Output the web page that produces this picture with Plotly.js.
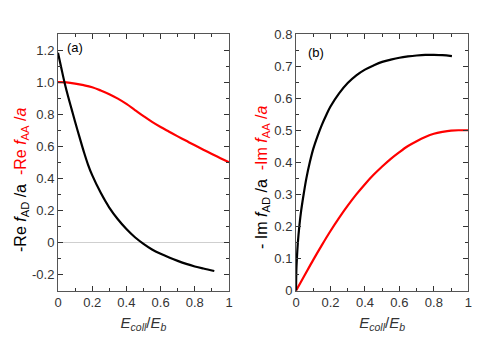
<!DOCTYPE html>
<html><head><meta charset="utf-8">
<script src="https://cdn.plot.ly/plotly-3.0.1.min.js"></script>
<style>body{margin:0;padding:0;background:#fff}#c{width:491px;height:343px}</style>
</head><body><div id="c"></div>
<script>
// Panel (a): real parts
const xReAD = [0, 0.02, 0.04, 0.06, 0.08, 0.1, 0.125, 0.15, 0.175, 0.2, 0.25, 0.3, 0.35, 0.4, 0.45, 0.5, 0.55, 0.6, 0.65, 0.7, 0.75, 0.8, 0.85, 0.914];
const yReAD = [1.183, 1.085, 0.99, 0.907, 0.83, 0.753, 0.66, 0.57, 0.488, 0.42, 0.31, 0.218, 0.145, 0.084, 0.033, -0.008, -0.043, -0.07, -0.093, -0.114, -0.133, -0.149, -0.162, -0.177];
const xReAA = [0, 0.05, 0.1, 0.15, 0.2, 0.25, 0.3, 0.35, 0.4, 0.45, 0.5, 0.55, 0.6, 0.65, 0.7, 0.75, 0.8, 0.85, 0.9, 0.95, 1.0];
const yReAA = [1.0, 0.998, 0.991, 0.981, 0.968, 0.948, 0.925, 0.897, 0.864, 0.826, 0.788, 0.752, 0.72, 0.691, 0.662, 0.634, 0.606, 0.579, 0.552, 0.526, 0.5];
// Panel (b): imaginary parts
const xImAD = [0, 0.002, 0.005, 0.01, 0.02, 0.03, 0.045, 0.06, 0.08, 0.1, 0.125, 0.15, 0.175, 0.2, 0.25, 0.3, 0.35, 0.4, 0.45, 0.5, 0.55, 0.6, 0.65, 0.7, 0.75, 0.8, 0.85, 0.905];
const yImAD = [0, 0.065, 0.10, 0.145, 0.205, 0.25, 0.303, 0.35, 0.40, 0.442, 0.482, 0.517, 0.547, 0.574, 0.615, 0.647, 0.671, 0.689, 0.702, 0.713, 0.72, 0.726, 0.73, 0.733, 0.735, 0.735, 0.734, 0.731];
const xImAA = [0, 0.05, 0.1, 0.15, 0.2, 0.25, 0.3, 0.35, 0.4, 0.45, 0.5, 0.55, 0.6, 0.65, 0.7, 0.75, 0.8, 0.85, 0.9, 0.95, 1.0];
const yImAA = [0, 0.048, 0.096, 0.142, 0.186, 0.227, 0.265, 0.3, 0.332, 0.361, 0.387, 0.411, 0.432, 0.451, 0.466, 0.479, 0.489, 0.495, 0.499, 0.5, 0.5];
const xTickVals = [0, 0.2, 0.4, 0.6, 0.8, 1];
const xTickText = ['0', '0.2', '0.4', '0.6', '0.8', '1'];
const yaTickVals = [-0.2, 0, 0.2, 0.4, 0.6, 0.8, 1.0, 1.2];
const yaTickText = ['-0.2', '0', '0.2', '0.4', '0.6', '0.8', '1.0', '1.2'];
const ybTickVals = [0, 0.1, 0.2, 0.3, 0.4, 0.5, 0.6, 0.7, 0.8];
const ybTickText = ['0', '0.1', '0.2', '0.3', '0.4', '0.5', '0.6', '0.7', '0.8'];
const yaTitle = '-Re <i>f</i><sub>AD</sub> /a  <span style="color:#ff0000">-Re <i>f</i><sub>AA</sub> /<i>a</i></span>';
const ybTitle = '- Im <i>f</i><sub>AD</sub> /a  <span style="color:#ff0000">-Im <i>f</i><sub>AA</sub> /<i>a</i></span>';
const xTitle = '<i>E<sub>coll</sub></i>/<i>E<sub>b</sub></i>';

const FONT = 'Liberation Sans, Arial, sans-serif';
const traces = [
  {x: xReAA, y: yReAA, xaxis: 'x', yaxis: 'y', mode: 'lines', line: {color: '#ff0000', width: 2.2, shape: 'spline', smoothing: 1}},
  {x: xReAD, y: yReAD, xaxis: 'x', yaxis: 'y', mode: 'lines', line: {color: '#000000', width: 2.2, shape: 'spline', smoothing: 1}},
  {x: xImAA, y: yImAA, xaxis: 'x2', yaxis: 'y2', mode: 'lines', line: {color: '#ff0000', width: 2.2, shape: 'spline', smoothing: 1}},
  {x: xImAD, y: yImAD, xaxis: 'x2', yaxis: 'y2', mode: 'lines', line: {color: '#000000', width: 2.2, shape: 'spline', smoothing: 1}}
];
function xax(domain, anchor) {
  return {domain: domain, anchor: anchor, range: [0, 1], tickvals: xTickVals, ticktext: xTickText,
    ticks: 'inside', ticklen: 5, tickwidth: 1, tickcolor: '#333', showgrid: false, zeroline: false,
    showline: true, linecolor: '#555', linewidth: 1, mirror: 'ticks',
    minor: {ticks: 'inside', dtick: 0.1, ticklen: 3, tickcolor: '#333', showgrid: false},
    tickfont: {family: FONT, size: 13, color: '#333'},
    title: {text: xTitle, font: {family: FONT, size: 15, color: '#333'}, standoff: 8},
    automargin: false, fixedrange: true};
}
const layout = {
  width: 491, height: 343, margin: {l: 0, r: 0, t: 0, b: 0},
  paper_bgcolor: '#fff', plot_bgcolor: '#fff', showlegend: false,
  xaxis: xax([0.1181, 0.4664], 'y'),
  xaxis2: xax([0.6029, 0.9538], 'y2'),
  yaxis: {domain: [0.1525, 0.9009], anchor: 'x', range: [-0.3, 1.3], tickvals: yaTickVals, ticktext: yaTickText,
    ticks: 'inside', ticklen: 5, tickcolor: '#333', showgrid: false,
    zeroline: true, zerolinecolor: '#bbb', zerolinewidth: 0.7,
    showline: true, linecolor: '#555', linewidth: 1, mirror: 'ticks',
    minor: {ticks: 'inside', dtick: 0.1, ticklen: 3, tickcolor: '#333', showgrid: false},
    tickfont: {family: FONT, size: 13, color: '#333'},
    automargin: false, fixedrange: true},
  yaxis2: {domain: [0.1525, 0.9009], anchor: 'x2', range: [0, 0.8], tickvals: ybTickVals, ticktext: ybTickText,
    ticks: 'inside', ticklen: 5, tickcolor: '#333', showgrid: false, zeroline: false,
    showline: true, linecolor: '#555', linewidth: 1, mirror: 'ticks',
    minor: {ticks: 'inside', dtick: 0.05, ticklen: 3, tickcolor: '#333', showgrid: false},
    tickfont: {family: FONT, size: 13, color: '#333'},
    automargin: false, fixedrange: true},
  annotations: [
    {text: yaTitle, xref: 'paper', yref: 'paper', x: 22 / 491, y: 1 - 180 / 343, xanchor: 'center', yanchor: 'middle', textangle: -90, showarrow: false, font: {family: FONT, size: 16, color: '#000'}},
    {text: ybTitle, xref: 'paper', yref: 'paper', x: 262 / 491, y: 1 - 177 / 343, xanchor: 'center', yanchor: 'middle', textangle: -90, showarrow: false, font: {family: FONT, size: 16, color: '#000'}},
    {text: '(a)', xref: 'x domain', yref: 'y domain', x: 0.04, y: 0.985, xanchor: 'left', yanchor: 'top', showarrow: false, font: {family: FONT, size: 13, color: '#000'}},
    {text: '(b)', xref: 'x2 domain', yref: 'y2 domain', x: 0.06, y: 0.965, xanchor: 'left', yanchor: 'top', showarrow: false, font: {family: FONT, size: 13, color: '#000'}}
  ]
};
Plotly.newPlot('c', traces, layout, {staticPlot: true, displayModeBar: false});
</script></body></html>
